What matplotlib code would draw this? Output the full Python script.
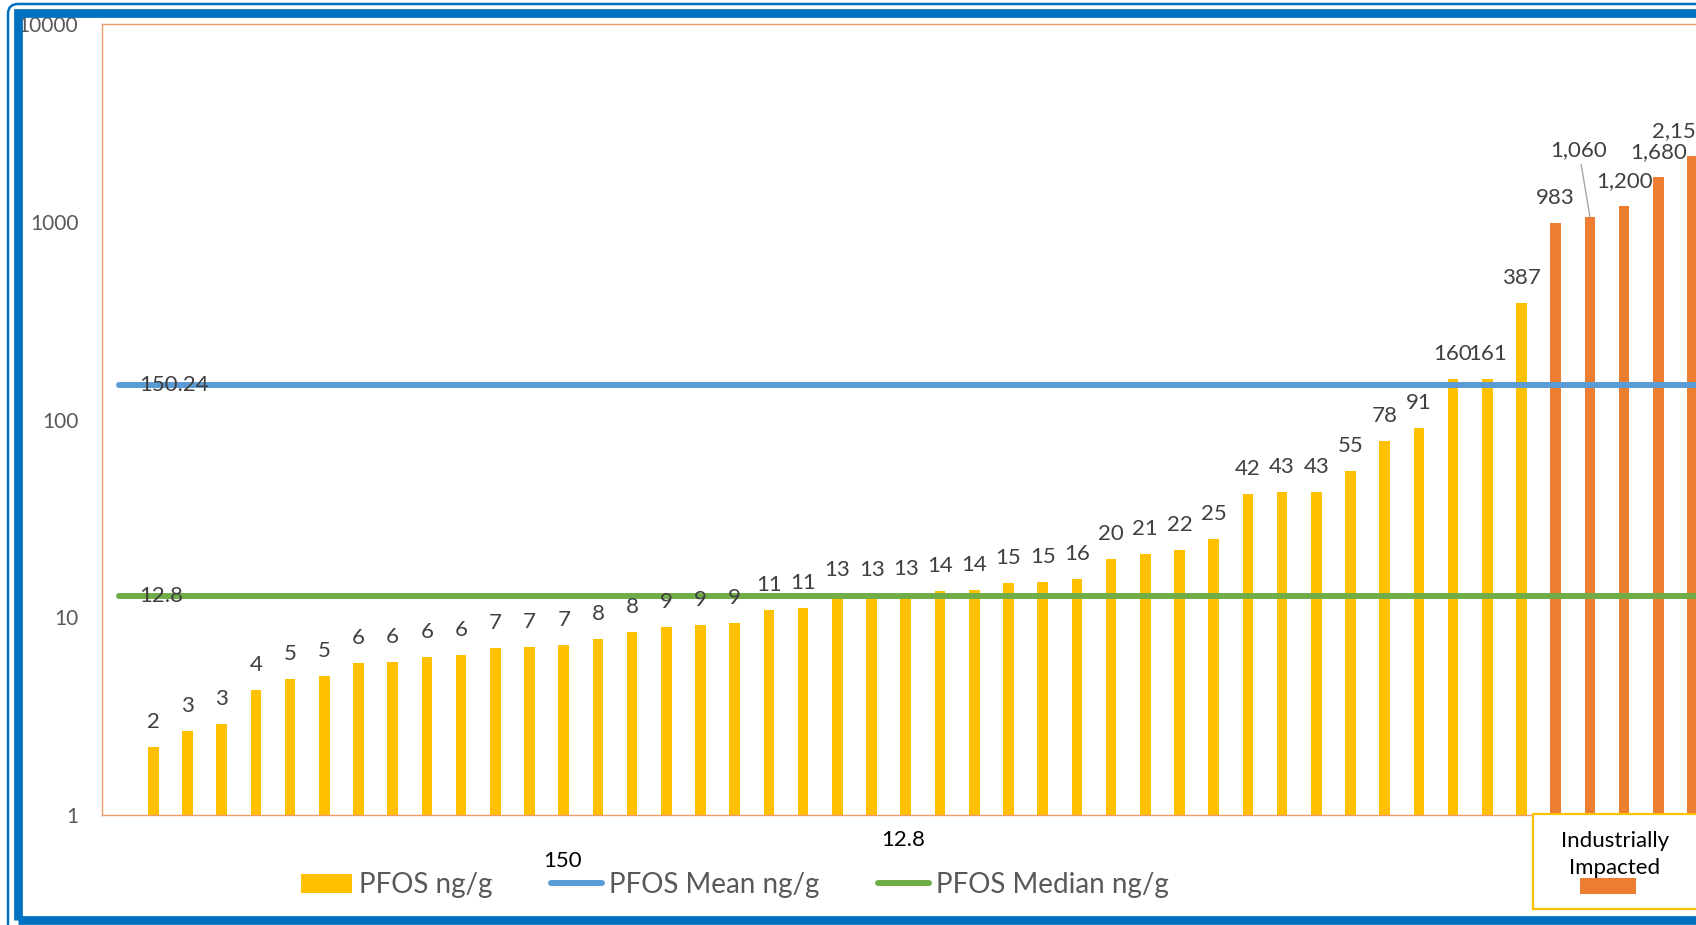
import matplotlib
matplotlib.use("Agg")
import matplotlib.pyplot as plt
from matplotlib.patches import Rectangle, FancyBboxPatch, Patch
from matplotlib.lines import Line2D
import numpy as np

plt.rcParams['font.family'] = ['Lato', 'DejaVu Sans']

# PFOS concentrations (ng/g), sorted
pfos = [2.2, 2.65, 2.9, 4.3, 4.9, 5.05, 5.85, 5.95, 6.3, 6.45, 7.0, 7.1, 7.25,
        7.75, 8.45, 8.9, 9.1, 9.35, 10.9, 11.15, 12.9, 13.0, 13.1, 13.6, 13.7,
        14.9, 15.1, 15.7, 19.6, 20.9, 21.8, 24.8, 42.0, 42.8, 43.2, 54.8, 77.6,
        90.6, 159.6, 161, 387]
impacted = [983, 1060, 1200, 1680, 2150]
pfos_mean = 150.24
pfos_median = 12.8
yticks = [1, 10, 100, 1000, 10000]

YELLOW = '#FFC000'
ORANGE = '#ED7D31'
BLUE = '#5B9BD5'
GREEN = '#70AD47'
FRAME = '#0070C0'
LABEL = '#404040'

W, H = 1696, 925
fig = plt.figure(figsize=(W / 100, H / 100), dpi=100)
ax = fig.add_axes([102 / W, 1 - 815 / H, 1676 / W, 791 / H])

values = pfos + impacted
x = np.arange(len(values))
colors = [YELLOW] * len(pfos) + [ORANGE] * len(impacted)
ax.bar(x, values, width=0.31, color=colors, zorder=2)

ax.set_yscale('log')
ax.set_ylim(1, 10000)
ax.set_xlim(-1.5, 47.5)
ax.set_yticks(yticks)
ax.set_yticklabels([str(t) for t in yticks])
ax.yaxis.set_minor_locator(matplotlib.ticker.NullLocator())
ax.tick_params(axis='y', length=0, pad=17, labelsize=15, labelcolor='#595959')
ax.set_xticks([])
for s in ax.spines.values():
    s.set_color('#F19C65')
    s.set_linewidth(1.0)

# mean / median lines
ax.plot([-1, 47.5], [pfos_mean, pfos_mean], color=BLUE, lw=4.3,
        solid_capstyle='round', zorder=3)
ax.plot([-1, 47.5], [pfos_median, pfos_median], color=GREEN, lw=4.3,
        solid_capstyle='round', zorder=3)
ax.text(-0.4, pfos_mean, f"{pfos_mean:.2f}", ha='left', va='center',
        fontsize=16, color=LABEL, zorder=4)
ax.text(-0.4, pfos_median, f"{pfos_median:g}", ha='left', va='center',
        fontsize=16, color=LABEL, zorder=4)

# data labels
for i, v in enumerate(values):
    txt = f"{v:,.0f}"
    if v == 1060:
        ax.annotate(txt, xy=(i, v), xytext=(-8, 48), textcoords='offset points',
                    ha='center', va='center', fontsize=16, color=LABEL,
                    arrowprops=dict(arrowstyle='-', color='#A6A6A6', lw=1,
                                    shrinkA=1, shrinkB=0))
    elif v == 2150:
        ax.annotate(txt, xy=(i, v), xytext=(-9, 18), textcoords='offset points',
                    ha='center', va='center', fontsize=16, color=LABEL)
    else:
        ax.annotate(txt, xy=(i, v), xytext=(0, 18), textcoords='offset points',
                    ha='center', va='center', fontsize=16, color=LABEL)

# legend
handles = [Patch(facecolor=YELLOW, edgecolor='none'),
           Line2D([], [], color=BLUE, lw=4.3, solid_capstyle='round'),
           Line2D([], [], color=GREEN, lw=4.3, solid_capstyle='round')]
fig.legend(handles, ['PFOS ng/g', 'PFOS Mean ng/g', 'PFOS Median ng/g'],
           loc='center', bbox_to_anchor=(735 / W, 40 / H), ncol=3,
           frameon=False, fontsize=20, labelcolor='#595959',
           handlelength=1.85, handletextpad=0.25, columnspacing=2.1,
           borderpad=0)
fig.text(543 / W, 1 - 861 / H, "150", ha='left', va='center', fontsize=16,
         color='black')
fig.text(881 / W, 1 - 840 / H, "12.8", ha='left', va='center', fontsize=16,
         color='black')

# "Industrially Impacted" box
tr = fig.dpi_scale_trans
fig.patches.append(Rectangle((1533 / 100, (925 - 909) / 100), 3.0, 0.95,
                             transform=tr, facecolor='white', edgecolor=YELLOW,
                             lw=1.6, zorder=5))
fig.text(1615 / W, 1 - 841 / H, "Industrially", ha='center', va='center',
         fontsize=16, color='black', zorder=6)
fig.text(1615 / W, 1 - 868 / H, "Impacted", ha='center', va='center',
         fontsize=16, color='black', zorder=6)
fig.patches.append(Rectangle((1580 / 100, (925 - 894) / 100), 0.56, 0.165,
                             transform=tr, facecolor=ORANGE, edgecolor='none',
                             zorder=7))

# outer double blue frame
fig.patches.append(FancyBboxPatch((8 / 100, -0.5), 20, (925 - 4) / 100 + 0.5,
                                  boxstyle='round,pad=0,rounding_size=0.1',
                                  transform=tr, facecolor='none',
                                  edgecolor=FRAME, lw=1.8, zorder=8))
fig.patches.append(Rectangle((17.5 / 100, (925 - 920) / 100), 20,
                             (920 - 13) / 100, transform=tr, facecolor='none',
                             edgecolor=FRAME, lw=6.3, zorder=8))

fig.savefig('out.png', dpi=100)
